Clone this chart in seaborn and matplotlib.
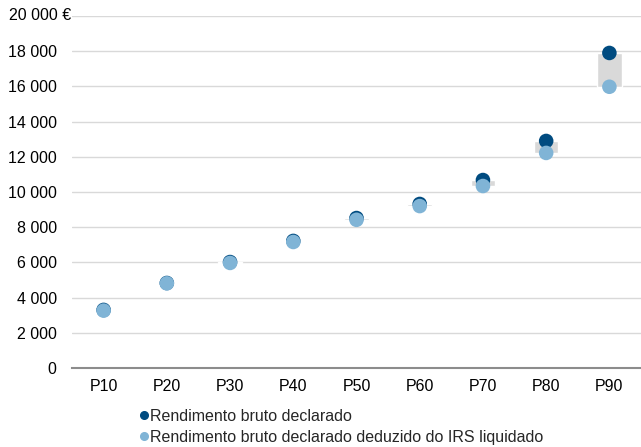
import numpy as np
import pandas as pd
import matplotlib
matplotlib.use("Agg")
import matplotlib.pyplot as plt
import seaborn as sns
from matplotlib.ticker import FuncFormatter
from matplotlib.lines import Line2D
from matplotlib.transforms import blended_transform_factory

# Dados
percentis = ["P10", "P20", "P30", "P40", "P50", "P60", "P70", "P80", "P90"]
bruto = [3300, 4830, 6020, 7220, 8520, 9320, 10680, 12900, 17900]
liquido = [3260, 4810, 5970, 7160, 8420, 9200, 10340, 12220, 15980]
serie_bruto = "Rendimento bruto declarado"
serie_liquido = "Rendimento bruto declarado deduzido do IRS liquidado"

cor_bruto = "#004b80"
cor_liquido = "#80b4d6"

sns.set_theme(style="white")
plt.rcParams["font.family"] = ["Liberation Sans", "DejaVu Sans"]

df = pd.DataFrame({
    "percentil": percentis * 2,
    "valor": bruto + liquido,
    "serie": [serie_bruto] * len(percentis) + [serie_liquido] * len(percentis),
})

fig = plt.figure(figsize=(6.41, 4.47), dpi=100)
ax = fig.add_axes([72 / 641, 79 / 447, 1 - 72 / 641, 352 / 447])

# Barras flutuantes entre os dois valores
x = np.arange(len(percentis))
baixo = np.minimum(bruto, liquido)
altura = np.abs(np.array(bruto) - np.array(liquido))
ax.bar(x, np.maximum(altura, 25), bottom=baixo, width=0.39, color="#d9d9d9", zorder=2)

sns.scatterplot(data=df, x="percentil", y="valor", hue="serie",
                palette={serie_bruto: cor_bruto, serie_liquido: cor_liquido},
                s=110, linewidth=0, ax=ax, zorder=3, legend=False)

ymax = 20000
ax.set_xlim(-0.5, len(percentis) - 0.5)
ax.set_ylim(0, ymax)
ax.set_yticks(np.arange(0, ymax + 1, 2000))
# o rótulo do topo (com €) é escrito à parte, alinhado à esquerda
ax.yaxis.set_major_formatter(FuncFormatter(
    lambda v, p: "" if v == ymax else "{:,.0f}".format(v).replace(",", " ")))
ax.text(9 / 641, ymax, "{:,.0f} €".format(ymax).replace(",", " "),
        transform=blended_transform_factory(fig.transFigure, ax.transData),
        ha="left", va="center", fontsize=11.5, color="black")
ax.grid(axis="y", color="#d9d9d9", linewidth=1, zorder=0)
ax.set_axisbelow(True)
for s in ["top", "right", "left"]:
    ax.spines[s].set_visible(False)
ax.spines["bottom"].set_color("#8c8c8c")
ax.spines["bottom"].set_linewidth(1.5)
ax.tick_params(axis="both", length=0, labelsize=11.5, colors="black")
ax.tick_params(axis="y", pad=11)
ax.tick_params(axis="x", pad=8)
ax.set_xlabel("")
ax.set_ylabel("")

handles = [
    Line2D([], [], marker="o", linestyle="", color=cor_bruto, markersize=5.5),
    Line2D([], [], marker="o", linestyle="", color=cor_liquido, markersize=5.5),
]
fig.legend(handles, [serie_bruto, serie_liquido], loc="upper left",
           bbox_to_anchor=(132 / 641, 1 - 401 / 447), frameon=False,
           fontsize=11.5, handlelength=0.5, handletextpad=0.15,
           labelspacing=0.38, borderpad=0)

fig.savefig("out.png", dpi=100)
